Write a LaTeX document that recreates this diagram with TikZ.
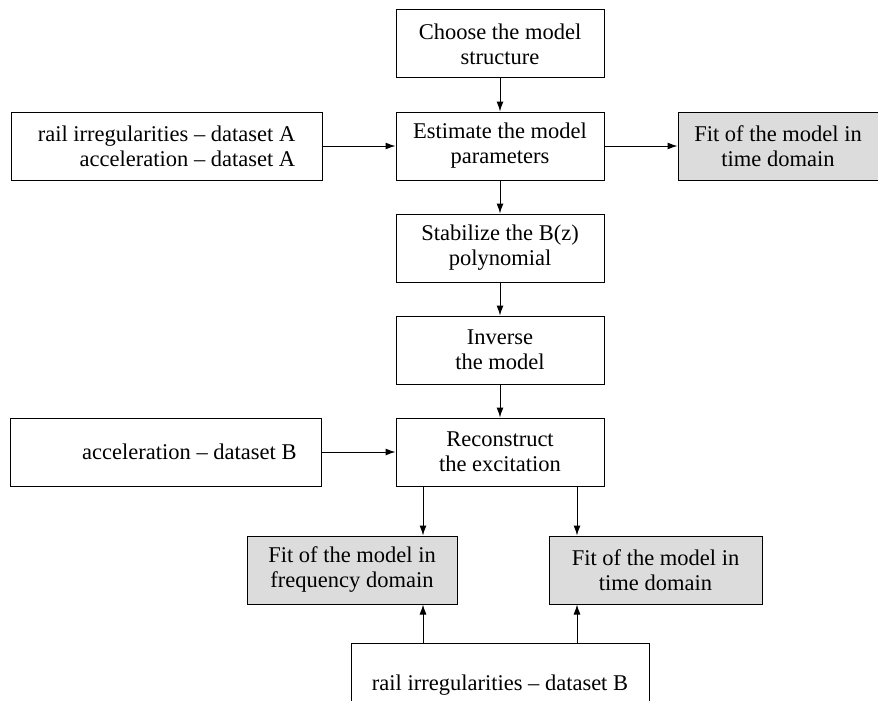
\documentclass[tikz,border=0pt]{standalone}
\usepackage{fontspec}
\setmainfont{Liberation Serif}
\usetikzlibrary{positioning,arrows.meta}
\definecolor{fitgray}{RGB}{220,220,220}

\begin{document}
\begin{tikzpicture}[
			x=1pt, y=1pt,
			>={Latex[length=10pt,width=7pt]},
			every node/.style={font=\fontsize{22.5}{25}\selectfont},
			stepbox/.style={rectangle, draw=black, line width=1pt, minimum width=208pt, minimum height=68pt, align=center},
			databox/.style={rectangle, draw=black, line width=1pt, minimum width=311pt, minimum height=68pt, align=right},
			fitbox/.style={rectangle, draw=black, fill=fitgray, line width=1pt, minimum height=68pt, align=center},
		]
		\useasboundingbox (0,0) rectangle (878,-701);
		\clip (0,0) rectangle (878,-701);
		
			%Nodes
			\node[stepbox]	(choose)	at (500,-44)					{Choose the model\\structure};
			\node[stepbox]	(estimate)	[below=33pt of choose]			{Estimate the model\\parameters};
			\node[stepbox]	(stabilize)	[below=33pt of estimate]		{Stabilize the B(z)\\polynomial};
			\node[stepbox]	(inverse)	[below=33pt of stabilize]		{Inverse\\the model};
			\node[stepbox]	(reconstruct)	[below=33pt of inverse]		{Reconstruct\\the excitation};
			\node[databox]	(dataA)		[left=73pt of estimate]			{rail irregularities – dataset A\\acceleration – dataset A};
			\node[fitbox, minimum width=200pt]	(fitA)	[right=73pt of estimate]	{Fit of the model in\\time domain};
			\node[databox, text width=262pt, inner xsep=24.5pt, align=flush right]	(accB)	[left=74pt of reconstruct]	{acceleration – dataset B};
			\node[fitbox, minimum width=210pt]	(freq)	[below=49pt of reconstruct, xshift=-148pt]	{Fit of the model in\\frequency domain};
			\node[fitbox, minimum width=213pt]	(timeB)	[below=49pt of reconstruct, xshift=155.5pt]	{Fit of the model in\\time domain};
			\node[stepbox, minimum width=298pt, minimum height=84pt]	(railB)	[below=156pt of reconstruct]	{rail irregularities – dataset B};
		
			%Lines
			\draw[->, line width=1pt]	(choose.south) -- (estimate.north);
			\draw[->, line width=1pt]	(dataA.east) -- (estimate.west);
			\draw[->, line width=1pt]	(estimate.east) -- (fitA.west);
			\draw[->, line width=1pt]	(estimate.south) -- (stabilize.north);
			\draw[->, line width=1pt]	(stabilize.south) -- (inverse.north);
			\draw[->, line width=1pt]	(inverse.south) -- (reconstruct.north);
			\draw[->, line width=1pt]	(accB.east) -- (reconstruct.west);
			\draw[->, line width=1pt]	([xshift=-77pt]reconstruct.south) -- ([xshift=-77pt]reconstruct.south |- freq.north);
			\draw[->, line width=1pt]	([xshift=77pt]reconstruct.south) -- ([xshift=77pt]reconstruct.south |- timeB.north);
			\draw[->, line width=1pt]	([xshift=-77pt]railB.north) -- ([xshift=-77pt]railB.north |- freq.south);
			\draw[->, line width=1pt]	([xshift=77pt]railB.north) -- ([xshift=77pt]railB.north |- timeB.south);
		
		\end{tikzpicture}
\end{document}
